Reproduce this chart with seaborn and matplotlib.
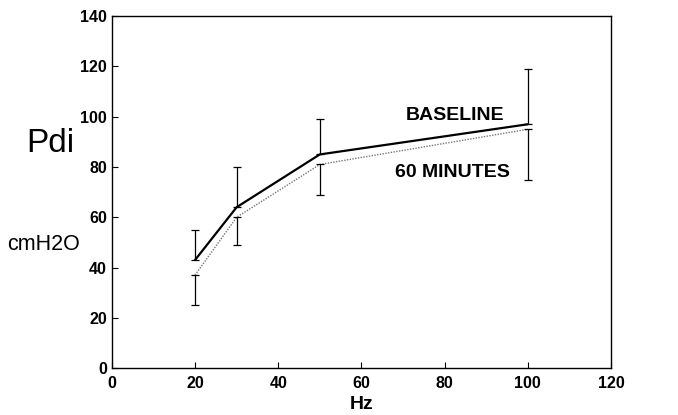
import numpy as np
import pandas as pd
import matplotlib
matplotlib.use("Agg")
import matplotlib.pyplot as plt
import seaborn as sns

# values
hz = [20, 30, 50, 100]
baseline = [43, 64, 85, 97]
baseline_upper = [55, 80, 99, 119]
minutes60 = [37, 60, 81, 95]
minutes60_lower = [25, 49, 69, 75]

sns.set_theme(style="ticks", rc={"text.color": "black", "axes.labelcolor": "black",
                                 "xtick.color": "black", "ytick.color": "black"})
plt.rcParams['font.family'] = ['Liberation Sans', 'DejaVu Sans']

df = pd.DataFrame({"Hz": hz * 2,
                   "Pdi": baseline + minutes60,
                   "Condition": ["BASELINE"] * 4 + ["60 MINUTES"] * 4})

fig = plt.figure(figsize=(6.78, 4.15), dpi=100)
ax = fig.add_axes([0.165, 0.113, 0.736, 0.848])

sns.lineplot(data=df[df.Condition == "BASELINE"], x="Hz", y="Pdi", ax=ax,
             color="black", lw=1.6, legend=False)
sns.lineplot(data=df[df.Condition == "60 MINUTES"], x="Hz", y="Pdi", ax=ax,
             color="#777777", lw=1.0, ls=(0, (1, 1)), legend=False)

# one-sided error bars: up for baseline, down for 60 minutes
up = np.array(baseline_upper) - np.array(baseline)
ax.errorbar(hz, baseline, yerr=[np.zeros(4), up], fmt="none",
            ecolor="black", elinewidth=0.9, capsize=3, capthick=0.9)
down = np.array(minutes60) - np.array(minutes60_lower)
ax.errorbar(hz, minutes60, yerr=[down, np.zeros(4)], fmt="none",
            ecolor="black", elinewidth=0.9, capsize=3, capthick=0.9)

ax.set_xlim(0, 120)
ax.set_ylim(0, 140)
ax.set_xticks(range(0, 121, 20))
ax.set_yticks(range(0, 141, 20))
ax.tick_params(direction="in", length=4, width=0.8, labelsize=11.5, colors="black")
ax.tick_params(axis="x", pad=6)
for lab in ax.get_xticklabels() + ax.get_yticklabels():
    lab.set_fontweight("bold")
for s in ax.spines.values():
    s.set_visible(True)
    s.set_color("black")
    s.set_linewidth(1.0)

ax.set_xlabel("Hz", fontsize=14, fontweight="bold", labelpad=3)
ax.set_ylabel("")

ax.text(82.5, 100.5, "BASELINE", fontsize=14, fontweight="bold", ha="center", va="center")
ax.text(82, 78, "60 MINUTES", fontsize=14, fontweight="bold", ha="center", va="center")

fig.text(0.074, 0.655, "Pdi", fontsize=24, ha="center", va="center")
fig.text(0.064, 0.41, "cmH2O", fontsize=15.5, ha="center", va="center")

fig.savefig("out.png", dpi=100)
